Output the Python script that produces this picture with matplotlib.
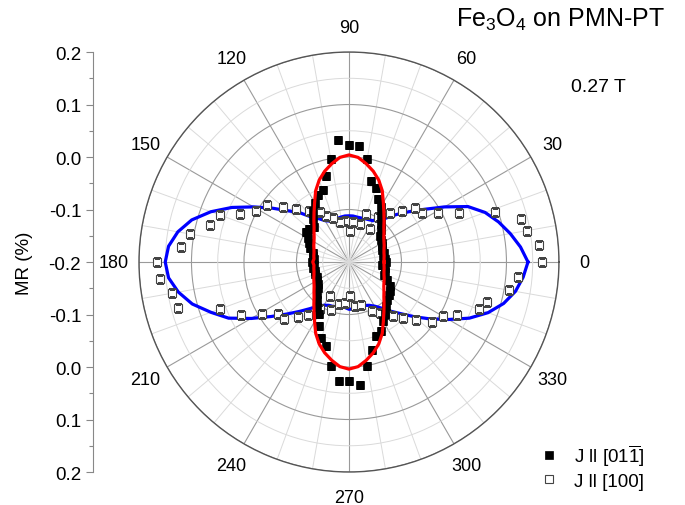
import numpy as np
import matplotlib.pyplot as plt
from matplotlib.ticker import MultipleLocator, FuncFormatter

plt.rcParams['font.family'] = ['Liberation Sans', 'DejaVu Sans']
plt.rcParams['mathtext.fontset'] = 'custom'
plt.rcParams['mathtext.rm'] = 'Liberation Sans'
plt.rcParams['mathtext.it'] = 'Liberation Sans:italic'
plt.rcParams['mathtext.bf'] = 'Liberation Sans:bold'

# J ll [01-1] measured points (deg, MR %)
ang_011 = np.arange(0, 360, 5)
mr_011 = [-0.130, -0.131, -0.134, -0.131, -0.133, -0.130, -0.128, -0.126, -0.122, -0.114,
          -0.105, -0.093, -0.078, -0.068, -0.050, -0.040, 0.000, 0.022, 0.022, 0.033,
          -0.001, -0.030, -0.055, -0.059, -0.070, -0.082, -0.093, -0.105, -0.101, -0.099,
          -0.109, -0.116, -0.122, -0.130, -0.131, -0.133, -0.130, -0.133, -0.131, -0.133,
          -0.131, -0.132, -0.130, -0.128, -0.122, -0.114, -0.105, -0.095, -0.086, -0.065,
          -0.046, -0.034, 0.002, 0.027, 0.027, 0.036, 0.002, -0.027, -0.050, -0.055,
          -0.070, -0.080, -0.090, -0.097, -0.101, -0.105, -0.110, -0.120, -0.130, -0.128,
          -0.131, -0.137]

# J ll [100] measured points
ang_100 = [0, 5, 10, 14, 19, 24, 29, 34, 39, 44, 50, 57, 58, 70, 74, 84, 88, 96, 103, 110,
           116, 120, 128, 135, 140, 145, 151, 156, 160, 165, 170, 175, 180, 185, 190, 195,
           200, 206, 211, 216, 221, 227, 232, 238, 241, 250, 256, 264, 272, 278, 285, 295,
           301, 306, 309, 314, 319, 324, 330, 334, 340, 344, 350, 355]
mr_100 = [0.168, 0.163, 0.145, 0.137, 0.095, 0.029, -0.006, -0.033, -0.038, -0.059,
          -0.077, -0.097, -0.126, -0.103, -0.125, -0.124, -0.140, -0.121, -0.122, -0.111,
          -0.102, -0.090, -0.076, -0.058, -0.037, -0.010, 0.002, 0.027, 0.061, 0.074,
          0.107, 0.122, 0.166, 0.162, 0.143, 0.137, 0.061, 0.029, -0.006, -0.032,
          -0.036, -0.057, -0.073, -0.095, -0.125, -0.102, -0.118, -0.121, -0.136, -0.116,
          -0.115, -0.097, -0.086, -0.078, -0.067, -0.051, -0.031, -0.004, 0.006, 0.030,
          0.064, 0.074, 0.110, 0.123]

# fitted curves, every 5 deg from 0 to 360
fit_ang = np.arange(0, 365, 5)
fit_011 = [-0.133, -0.133, -0.132, -0.131, -0.129, -0.126, -0.123, -0.119, -0.113, -0.106,
           -0.096, -0.084, -0.069, -0.050, -0.034, -0.021, -0.010, 0.000, 0.004,
           0.000, -0.010, -0.021, -0.034, -0.050, -0.069, -0.084, -0.096, -0.106, -0.113,
           -0.119, -0.123, -0.126, -0.129, -0.131, -0.132, -0.133, -0.131,
           -0.133, -0.132, -0.131, -0.129, -0.126, -0.123, -0.119, -0.113, -0.106, -0.096,
           -0.084, -0.069, -0.050, -0.034, -0.021, -0.010, 0.000, 0.004,
           0.000, -0.010, -0.021, -0.034, -0.050, -0.069, -0.084, -0.096, -0.106, -0.113,
           -0.119, -0.123, -0.126, -0.129, -0.131, -0.132, -0.133, -0.133]
fit_100 = [0.141, 0.128, 0.112, 0.095, 0.076, 0.050, 0.010, -0.025, -0.051, -0.072,
           -0.091, -0.103, -0.109, -0.111, -0.112, -0.113, -0.113, -0.112, -0.112,
           -0.112, -0.113, -0.114, -0.114, -0.114, -0.109, -0.099, -0.088, -0.067, -0.048,
           -0.021, 0.010, 0.046, 0.080, 0.110, 0.131, 0.145, 0.150,
           0.145, 0.130, 0.109, 0.080, 0.053, 0.015, -0.019, -0.046, -0.067, -0.084,
           -0.097, -0.105, -0.109, -0.110, -0.112, -0.114, -0.113, -0.110,
           -0.110, -0.112, -0.114, -0.112, -0.109, -0.103, -0.093, -0.078, -0.061, -0.038,
           -0.011, 0.019, 0.053, 0.082, 0.105, 0.122, 0.133, 0.141]

major_ang = list(range(0, 360, 30))
minor_ang = [a for a in range(0, 360, 10) if a % 30]

fig = plt.figure(figsize=(6.85, 5.06), dpi=100)
ax = fig.add_axes([0.2029, 0.0652, 0.6131, 0.830], projection='polar')
ax.set_ylim(-0.2, 0.2)

ax.set_xticks(np.deg2rad(major_ang))
ax.set_xticklabels([str(a) for a in major_ang], fontsize=13)
ax.set_xticks(np.deg2rad(minor_ang), minor=True)
ax.set_yticks([-0.1, 0.0, 0.1, 0.2])
ax.set_yticks([-0.15, -0.05, 0.05, 0.15], minor=True)
ax.set_yticklabels([])
ax.grid(True, which='major', color='#9a9a9a', lw=0.8)
ax.grid(True, which='minor', color='#dadada', lw=0.7)
ax.tick_params(axis='x', which='major', direction='inout', length=8, width=0.8,
               color='#555555', pad=7)
ax.tick_params(axis='x', which='minor', direction='in', length=5, width=0.8,
               color='#555555')
ax.tick_params(axis='y', which='both', length=0)
ax.spines['polar'].set_color('#555555')
ax.spines['polar'].set_linewidth(1.0)

th = np.deg2rad
ax.plot(th(fit_ang), fit_100, color='#0000ff', lw=2.3, zorder=3)
h100, = ax.plot(th(ang_100), mr_100, ls='none', marker='s', ms=5.6, mfc='white',
                mec='#444444', mew=0.8, zorder=4)
h011, = ax.plot(th(ang_011), mr_011, ls='none', marker='s', ms=5.2, mfc='black',
                mec='black', mew=0.5, zorder=5)
ax.plot(th(fit_ang), fit_011, color='#ff0000', lw=2.3, zorder=6)

# mirrored MR scale on the left
axl = fig.add_axes([93 / 685, 0.0652, 0.01, 0.830])
axl.set_ylim(-0.4, 0.4)
for s in ['top', 'right', 'bottom']:
    axl.spines[s].set_visible(False)
axl.spines['left'].set_color('#888888')
axl.patch.set_visible(False)
axl.set_xticks([])
axl.yaxis.set_major_locator(MultipleLocator(0.1))
axl.yaxis.set_minor_locator(MultipleLocator(0.05))
axl.yaxis.set_major_formatter(FuncFormatter(lambda v, p: f"{round(abs(v) - 0.2, 2) + 0.0:.1f}"))
axl.tick_params(axis='y', which='major', length=5, width=0.8, color='#888888', labelsize=13.5)
axl.tick_params(axis='y', which='minor', length=3, width=0.8, color='#888888')

fig.text(25 / 685, 1 - 263 / 506, 'MR (%)', rotation=90, ha='center', va='center', fontsize=13.5)
fig.text(665 / 685, 1 - 20 / 506, 'Fe$_3$O$_4$ on PMN-PT', ha='right', va='center', fontsize=18)
fig.text(598 / 685, 1 - 88 / 506, '0.27 T', ha='center', va='center', fontsize=14)

fig.legend(handles=[h011, h100], labels=[r'J ll [01$\overline{1}$]', 'J ll [100]'],
           loc='center left', bbox_to_anchor=(540 / 685, 1 - 467 / 506), frameon=False,
           fontsize=13.5, handlelength=1.0, handletextpad=0.8, labelspacing=0.25,
           borderpad=0, borderaxespad=0)

fig.savefig('out.png', dpi=100)
